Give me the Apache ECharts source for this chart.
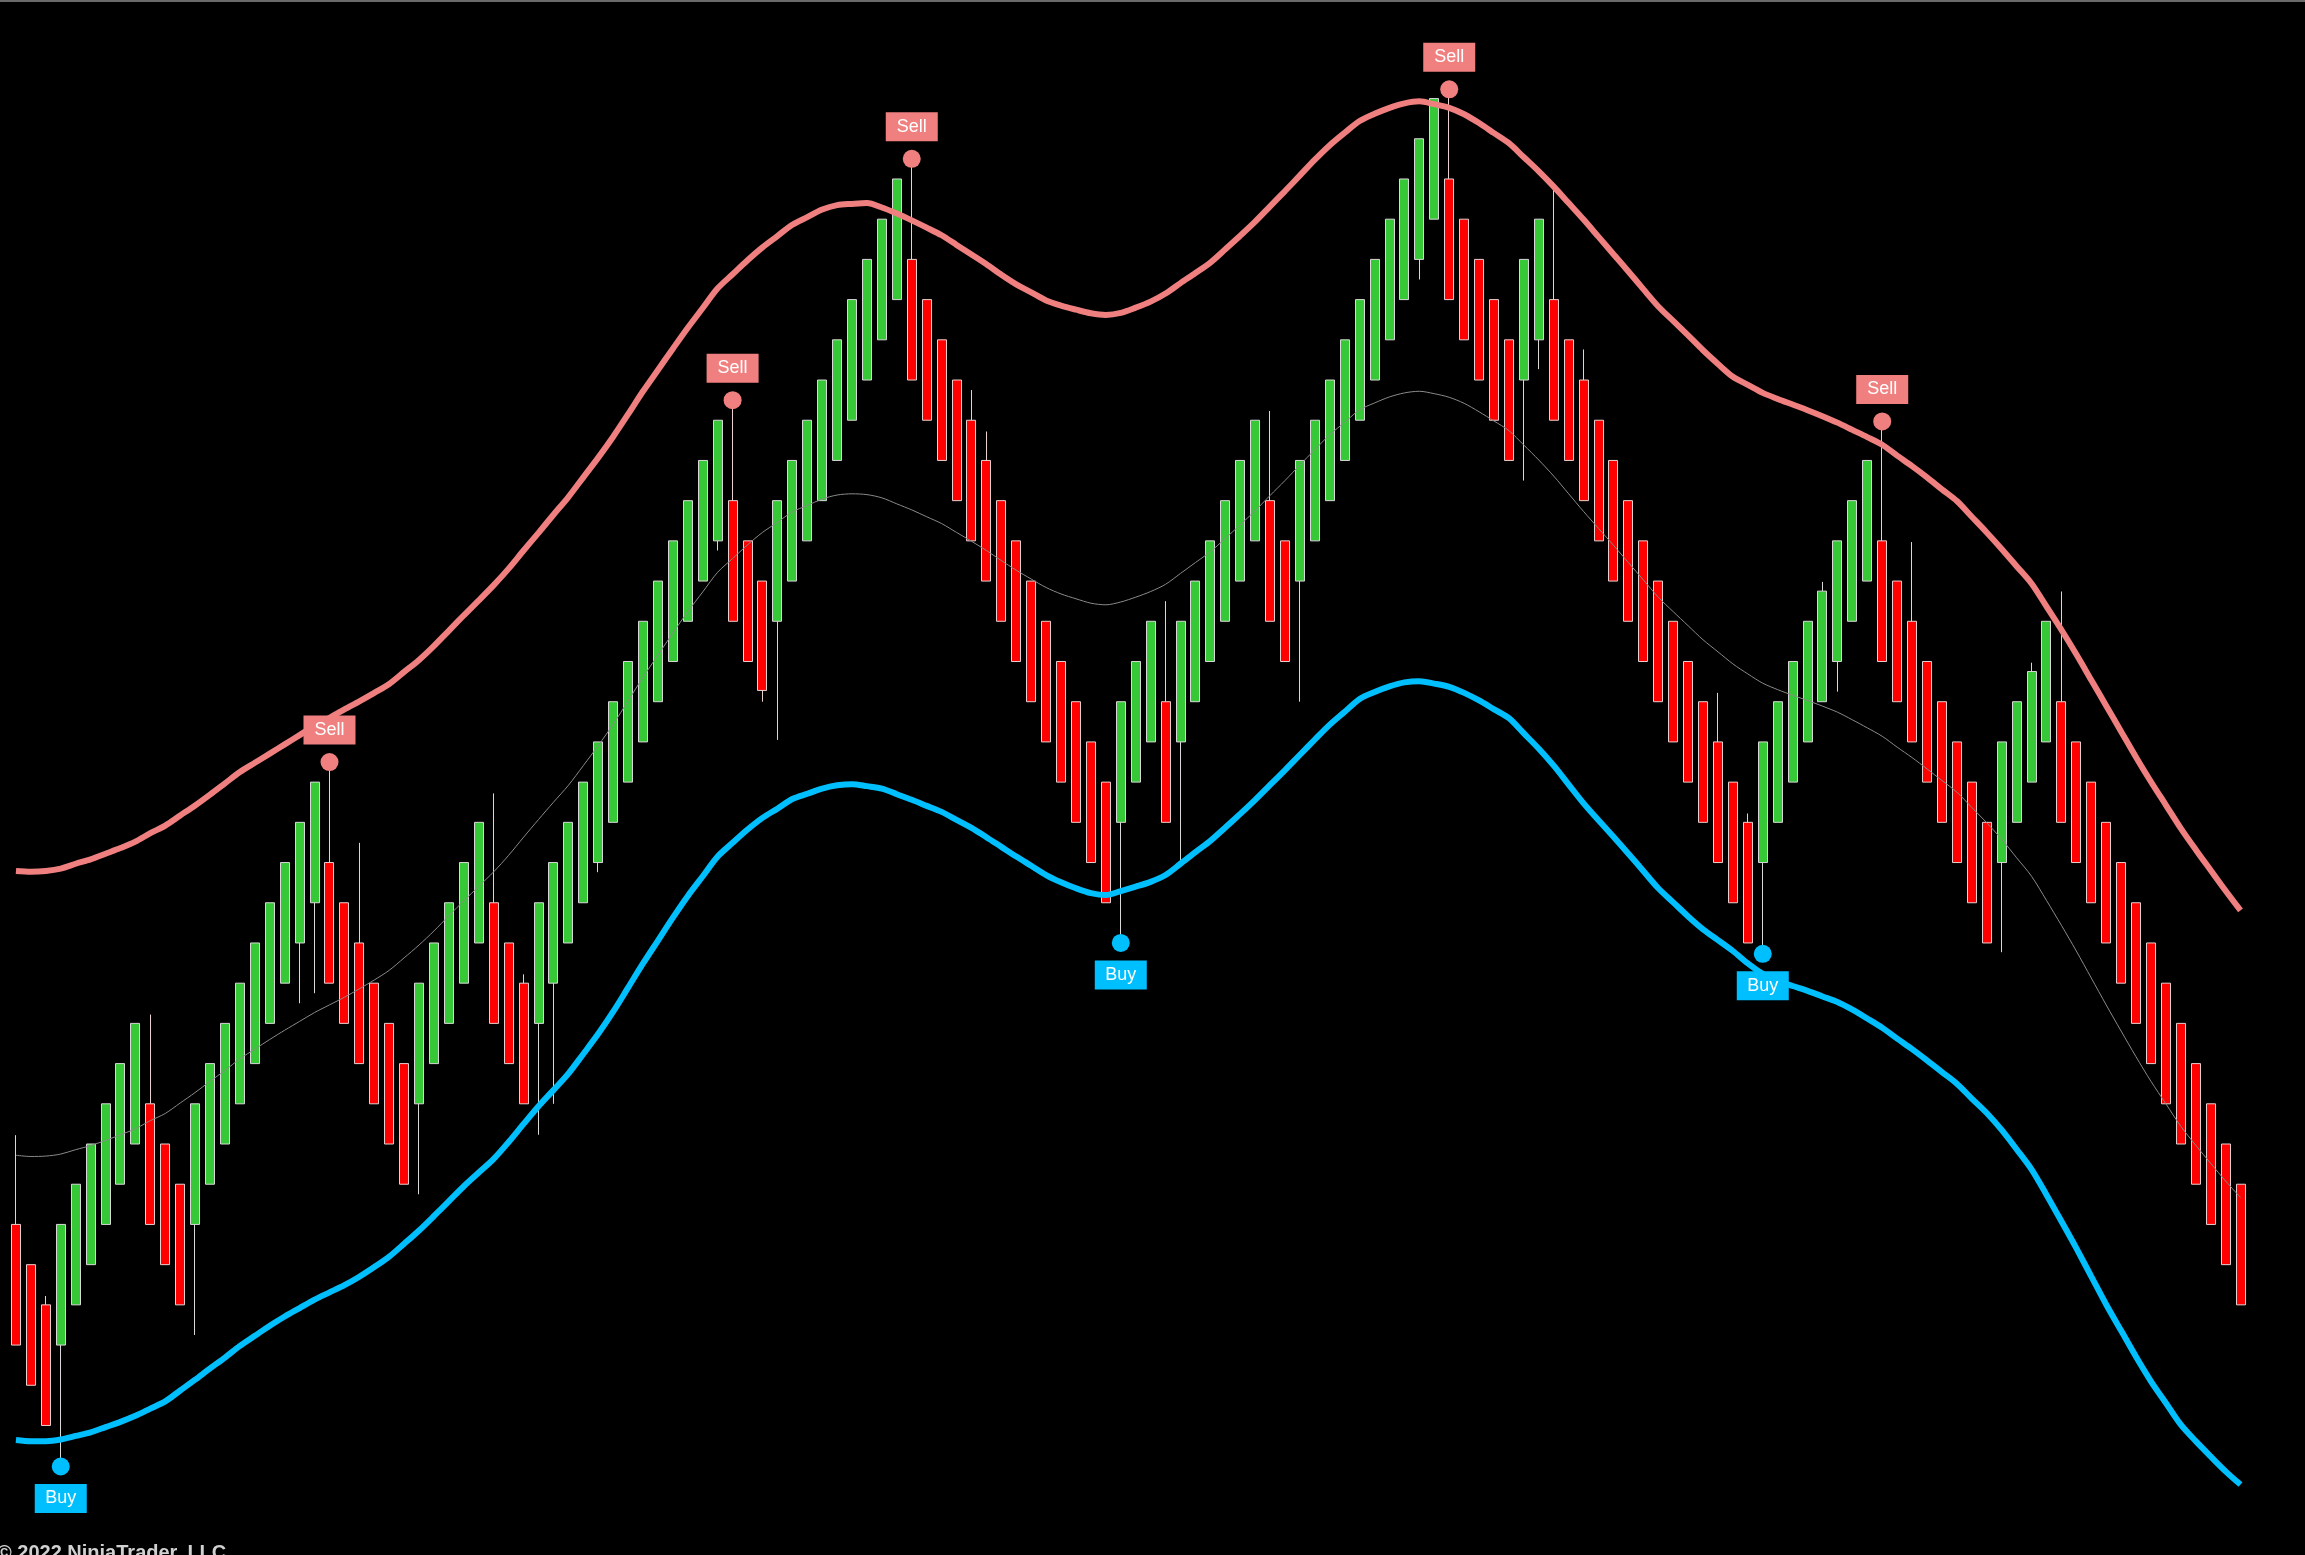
<!DOCTYPE html>
<html>
<head>
<meta charset="utf-8">
<style>
  html, body { margin: 0; padding: 0; background: #000; }
  #chart { width: 2305px; height: 1555px; }
</style>
<script src="https://cdn.jsdelivr.net/npm/echarts@6/dist/echarts.min.js"></script>
</head>
<body>
<div id="chart"></div>
<script>
// Prices are expressed in bricks (1 brick = one Renko step)
const barLabels = Array.from({ length: 150 }, (_, i) => 'Bar ' + (i + 1));

const opens = [
  5,4,3,2,3,4,5,6,7,8, 7,6,5,6,7,8,9,10,11,12,
  13,14,13,12,11,10,9,8,9,10, 11,12,13,12,11,10,11,12,13,14,
  15,16,17,18,19,20,21,22,23,22, 21,20,21,22,23,24,25,26,27,28,
  29,28,27,26,25,24,23,22,21,20, 19,18,17,16,15,16,17,18,17,18,
  19,20,21,22,23,22,21,22,23,24, 25,26,27,28,29,30,31,30,29,28,
  27,26,27,28,27,26,25,24,23,22, 21,20,19,18,17,16,15,14,15,16,
  17,18,19,20,21,22,21,20,19,18, 17,16,15,14,15,16,17,18,17,16,
  15,14,13,12,11,10,9,8,7,6
];
const closes = [
  2,1,0,5,6,7,8,9,10,5, 4,3,8,9,10,11,12,13,14,15,
  16,11,10,9,8,7,6,11,12,13, 14,15,10,9,8,13,14,15,16,17,
  18,19,20,21,22,23,24,25,20,19, 18.28,23,24,25,26,27,28,29,30,31,
  26,25,24,23,22,21,20,19,18,17, 16,15,14,13,18,19,20,15,20,21,
  22,23,24,25,20,19,24,25,26,27, 28,29,30,31,32,33,28,27,26,25,
  24,29,30,25,24,23,22,21,20,19, 18,17,16,15,14,13,12,17,18,19,
  20,20.75,22,23,24,19,18,17,16,15, 14,13,12,17,18,18.75,20,15,14,13,
  12,11,10,9,8,7,6,5,4,3
];
const lows = [
  2,1,0,-0.95,3,4,5,6,7,5, 4,3,2.25,6,7,8,9,10,11,10.5,
  10.75,11,10,9,8,7,6,5.75,9,10, 11,12,10,9,8,7.23,8,12,13,13.76,
  15,16,17,18,19,20,21,21.76,20,19, 18,17.05,21,22,23,24,25,26,27,28,
  26,25,24,23,22,21,20,19,18,17, 16,15,14,13,12.1,16,17,15,14.05,18,
  19,20,21,22,20,19,18,22,23,24, 25,26,27,28,28.5,30,28,27,26,25,
  24,23.5,26.27,25,24,23,22,21,20,19, 18,17,16,15,14,13,12,11.8,15,16,
  17,18,18.25,20,21,19,18,17,16,15, 14,13,12,11.77,15,16,17,15,14,13,
  12,11,10,9,8,7,6,5,4,3
];
const highs = [
  7.22,4,3.22,5,6,7,8,9,10,10.22, 7,6,8,9,10,11,12,13,14,15,
  16,16.4,13,14.49,11,10,9,11,12,13, 14,15,15.72,12,11.22,13,14,15,16,17,
  18,19,20,21,22,23,24,25,25.4,22, 21,23,24,25,26,27,28,29,30,31,
  31.4,28,27,26,25.75,24.72,23,22,21,20, 19,18,17,16,18,19,20,20.5,20,21,
  22,23,24,25,25.23,22,24,25,26,27, 28,29,30,31,32,33,33.15,30,29,28,
  27,29,30,30.77,27,26.76,25,24,23,22, 21,20,19,18,18.22,16,15.22,17,18,19,
  20,20.98,22,23,24,24.9,21,21.97,19,18, 17,16,15,17,18,18.97,20,20.74,17,16,
  15,14,13,12,11,10,9,8,7,6
];

const upperBand = [
  13.79,13.77,13.79,13.85,13.97,14.08,14.22,14.36,14.52,14.73, 14.92,15.17,15.42,15.69,15.97,16.25,16.48,16.71,16.94,17.17,
  17.40,17.60,17.81,18.01,18.22,18.44,18.74,19.04,19.39,19.77, 20.15,20.52,20.90,21.31,21.76,22.20,22.65,23.09,23.58,24.07,
  24.59,25.15,25.72,26.25,26.78,27.30,27.79,28.28,28.63,28.98, 29.30,29.58,29.86,30.05,30.24,30.35,30.38,30.40,30.29,30.14,
  29.97,29.79,29.60,29.36,29.12,28.88,28.62,28.38,28.18,27.98, 27.85,27.75,27.66,27.62,27.67,27.80,27.95,28.15,28.41,28.66,
  28.92,29.25,29.59,29.94,30.32,30.70,31.09,31.48,31.84,32.15, 32.44,32.62,32.77,32.88,32.93,32.86,32.77,32.61,32.39,32.14,
  31.89,31.54,31.19,30.81,30.40,29.99,29.56,29.13,28.70,28.26, 27.83,27.47,27.11,26.74,26.40,26.08,25.88,25.68,25.53,25.39,
  25.25,25.10,24.94,24.76,24.58,24.39,24.12,23.86,23.58,23.28, 22.99,22.60,22.21,21.80,21.37,20.94,20.37,19.79,19.18,18.54,
  17.90,17.26,16.62,16.01,15.43,14.85,14.32,13.81,13.30,12.81
];
const lowerBand = [
  -0.36,-0.39,-0.39,-0.35,-0.26,-0.17,-0.04,0.09,0.24,0.42, 0.60,0.87,1.14,1.42,1.69,1.98,2.23,2.48,2.71,2.92,
  3.13,3.31,3.49,3.70,3.94,4.20,4.52,4.85,5.21,5.58, 5.95,6.29,6.63,7.05,7.50,7.94,8.34,8.75,9.24,9.74,
  10.29,10.89,11.49,12.06,12.63,13.17,13.66,14.15,14.49,14.82, 15.11,15.34,15.58,15.71,15.84,15.92,15.95,15.90,15.84,15.70,
  15.56,15.41,15.26,15.06,14.86,14.63,14.39,14.15,13.92,13.69, 13.51,13.36,13.24,13.19,13.29,13.40,13.52,13.69,13.97,14.26,
  14.54,14.87,15.21,15.56,15.93,16.30,16.68,17.06,17.43,17.75, 18.07,18.24,18.38,18.48,18.51,18.45,18.37,18.22,18.03,17.81,
  17.59,17.21,16.83,16.41,15.94,15.47,15.05,14.64,14.22,13.79, 13.36,13.01,12.66,12.34,12.07,11.80,11.49,11.23,11.06,10.93,
  10.81,10.67,10.53,10.34,10.12,9.89,9.62,9.36,9.08,8.79, 8.50,8.13,7.77,7.35,6.87,6.37,5.74,5.08,4.41,3.71,
  3.01,2.36,1.71,1.10,0.56,0.02,-0.39,-0.77,-1.14,-1.47
];
const midBand = [
  6.72,6.69,6.70,6.75,6.86,6.96,7.09,7.23,7.38,7.58, 7.76,8.02,8.28,8.56,8.83,9.12,9.36,9.60,9.83,10.05,
  10.27,10.46,10.65,10.86,11.08,11.32,11.63,11.95,12.30,12.68, 13.05,13.41,13.77,14.18,14.63,15.07,15.50,15.92,16.41,16.91,
  17.44,18.02,18.61,19.16,19.71,20.24,20.73,21.22,21.56,21.90, 22.21,22.46,22.72,22.88,23.04,23.14,23.17,23.15,23.07,22.92,
  22.77,22.60,22.43,22.21,21.99,21.76,21.51,21.27,21.05,20.84, 20.68,20.56,20.45,20.41,20.48,20.60,20.74,20.92,21.19,21.46,
  21.73,22.06,22.40,22.75,23.13,23.50,23.89,24.27,24.64,24.95, 25.26,25.43,25.58,25.68,25.72,25.66,25.57,25.42,25.21,24.98,
  24.74,24.38,24.01,23.61,23.17,22.73,22.31,21.89,21.46,21.03, 20.60,20.24,19.89,19.54,19.24,18.94,18.69,18.46,18.30,18.16,
  18.03,17.89,17.74,17.55,17.35,17.14,16.87,16.61,16.33,16.04, 15.75,15.37,14.99,14.58,14.12,13.66,13.06,12.44,11.80,11.13,
  10.46,9.81,9.17,8.56,8.00,7.44,6.97,6.52,6.08,5.67
];

// Signals: bar index and the level of the signal dot
const sellBars = [21, 48, 60, 96, 125];
const sellLevels = [16.5, 25.5, 31.5, 33.23, 24.97];
const buyBars = [3, 74, 117];
const buyLevels = [-1.02, 12.0, 11.73];

const SELL = '#f08080', BUY = '#00bfff';

const candles = opens.map((o, i) => [o, closes[i], lows[i], highs[i]]);

const chart = echarts.init(document.getElementById('chart'), null, { renderer: 'canvas' });

function signalLabel(text, bg, pos) {
  return {
    show: true, position: pos, distance: 8.5, formatter: text,
    color: '#ffffff', fontSize: 18, fontFamily: 'Liberation Sans, Arial, sans-serif',
    backgroundColor: bg, padding: [5, 9, 5, 9], lineHeight: 19, width: 34, align: 'center',
    opacity: 1
  };
}

chart.setOption({
  backgroundColor: '#000000',
  animation: false,
  grid: { left: 8.5, right: 57, top: 0, bottom: 0, containLabel: false },
  xAxis: {
    type: 'category', data: barLabels, boundaryGap: true,
    axisLine: { show: false }, axisTick: { show: false }, axisLabel: { show: false }, splitLine: { show: false }
  },
  yAxis: {
    type: 'value', min: -3.221, max: 35.451, scale: true,
    axisLine: { show: false }, axisTick: { show: false }, axisLabel: { show: false }, splitLine: { show: false }
  },
  graphic: [
    { type: 'rect', shape: { x: 0, y: 0, width: 2305, height: 2 }, style: { fill: '#6a6a6a' }, z: 100 },
    { type: 'text', left: -3, top: 1543, z: 100,
      style: { text: '\u00a9 2022 NinjaTrader, LLC', fill: '#d0d0d0', font: 'bold 20px "Liberation Sans", Arial, sans-serif' } }
  ],
  series: [
    {
      name: 'Price', type: 'candlestick', data: candles, barWidth: 9.5, z: 2,
      itemStyle: {
        color: '#37c837', color0: '#ff0000',
        borderColor: '#d8d8d8', borderColor0: '#e8d0d0', borderWidth: 1
      }
    },
    {
      name: 'Middle', type: 'line', data: midBand, symbol: 'none', smooth: 0.3, z: 3,
      lineStyle: { color: '#8a8a8a', width: 1 }
    },
    {
      name: 'Upper', type: 'line', data: upperBand, symbol: 'none', smooth: 0.3, z: 4,
      lineStyle: { color: SELL, width: 6 }
    },
    {
      name: 'Lower', type: 'line', data: lowerBand, symbol: 'none', smooth: 0.3, z: 4,
      lineStyle: { color: BUY, width: 6 }
    },
    {
      name: 'Sell', type: 'scatter', z: 6, symbol: 'circle', symbolSize: 18,
      data: sellBars.map((b, k) => [b, sellLevels[k]]),
      itemStyle: { color: SELL, opacity: 1 },
      label: signalLabel('Sell', SELL, 'top')
    },
    {
      name: 'Buy', type: 'scatter', z: 6, symbol: 'circle', symbolSize: 18,
      data: buyBars.map((b, k) => [b, buyLevels[k]]),
      itemStyle: { color: BUY, opacity: 1 },
      label: signalLabel('Buy', BUY, 'bottom')
    }
  ]
});
</script>
</body>
</html>
